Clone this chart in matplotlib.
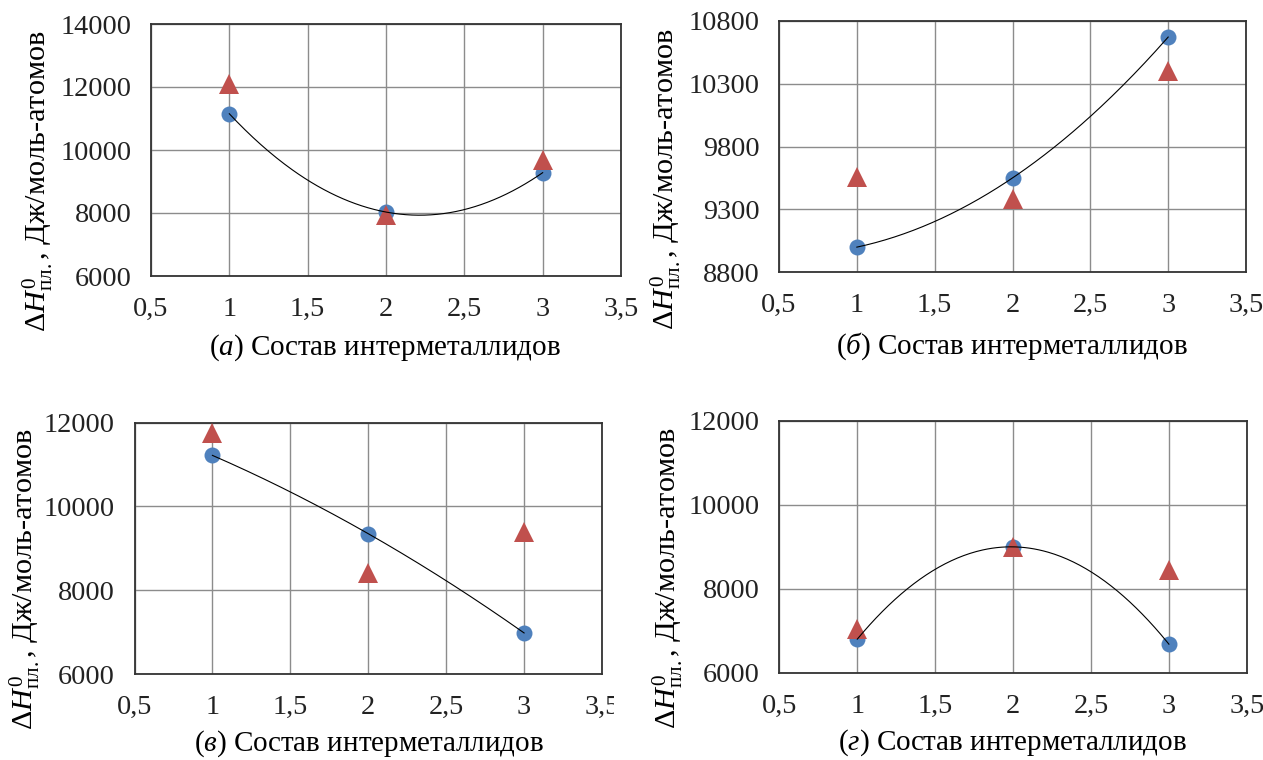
import numpy as np
import matplotlib
matplotlib.use("Agg")
import matplotlib.pyplot as plt
from matplotlib.patches import Rectangle

plt.rcParams['font.family'] = ['Liberation Serif', 'DejaVu Serif']
plt.rcParams['mathtext.fontset'] = 'custom'
plt.rcParams['mathtext.rm'] = 'Liberation Serif'
plt.rcParams['mathtext.it'] = 'Liberation Serif:italic'
plt.rcParams['mathtext.bf'] = 'Liberation Serif:bold'

# ---------------- data ----------------
x_comp = [1, 2, 3]

a_blue = [11150, 8030, 9280]
a_red = [12080, 7950, 9680]

b_blue = [9000, 9550, 10670]
b_red = [9560, 9380, 10400]

v_blue = [11220, 9350, 6980]
v_red = [11750, 8420, 9400]

g_blue = [6800, 9000, 6680]
g_red = [7050, 8990, 8450]

x_ticks = [0.5, 1, 1.5, 2, 2.5, 3, 3.5]
x_tick_labels = ['0,5', '1', '1,5', '2', '2,5', '3', '3,5']

a_yticks = [6000, 8000, 10000, 12000, 14000]
b_yticks = [8800, 9300, 9800, 10300, 10800]
v_yticks = [6000, 8000, 10000, 12000]
g_yticks = [6000, 8000, 10000, 12000]

panel_letters = ['а', 'б', 'в', 'г']
xlabel_text = 'Состав интерметаллидов'
ylabel_text = r'$\Delta H^{0}_{\mathrm{пл.}}$, Дж/моль-атомов'

# ---------------- layout ----------------
W, H = 1263, 760
fig = plt.figure(figsize=(W / 100, H / 100), dpi=100)

# axes rectangles in pixels: left, right, top, bottom
rects_px = [
    (151, 621, 24, 276),
    (779, 1246, 20.7, 272.3),
    (134.5, 602, 422.7, 674),
    (779.4, 1246.8, 421, 672.7),
]
ylabel_px = [(38, 332), (666, 330), (25, 730), (668, 729)]
xlabel_px = [(385, 348), (1012, 346), (369, 744), (1012, 743)]

blues = [a_blue, b_blue, v_blue, g_blue]
reds = [a_red, b_red, v_red, g_red]
yticks_all = [a_yticks, b_yticks, v_yticks, g_yticks]

BLUE = '#4F81BD'
RED = '#C0504D'
FS_TICK = 20.3
FS_X = 21
FS_Y = 21.8

for i in range(4):
    l, r, t, b = rects_px[i]
    ax = fig.add_axes([l / W, (H - b) / H, (r - l) / W, (b - t) / H])
    yt = yticks_all[i]
    ax.set_xlim(x_ticks[0], x_ticks[-1])
    ax.set_ylim(yt[0], yt[-1])
    ax.set_xticks(x_ticks)
    ax.set_xticklabels(x_tick_labels)
    ax.set_yticks(yt)
    ax.set_yticklabels([str(v) for v in yt])
    ax.tick_params(axis='both', length=0, labelsize=FS_TICK, colors='#222222')
    ax.tick_params(axis='x', pad=15)
    ax.tick_params(axis='y', pad=14)
    ax.grid(True, color='#8c8c8c', linewidth=1.0)
    ax.set_axisbelow(True)
    for s in ax.spines.values():
        s.set_color('#333333')
        s.set_linewidth(1.3)

    ax.plot(x_comp, blues[i], 'o', color=BLUE, markersize=11.5,
            markeredgewidth=0, zorder=3)
    ax.plot(x_comp, reds[i], '^', color=RED, markersize=14,
            markeredgewidth=0, zorder=4)
    coef = np.polyfit(x_comp, blues[i], 2)
    xf = np.linspace(x_comp[0], x_comp[-1], 200)
    ax.plot(xf, np.polyval(coef, xf), color='black', linewidth=0.8, zorder=5)

    # x label
    xl_x, xl_y = xlabel_px[i]
    ax.set_xlabel('($\\mathit{' + panel_letters[i] + '}$) ' + xlabel_text,
                  fontsize=FS_X, va='center', ha='center')
    ax.xaxis.set_label_coords((xl_x - l) / (r - l), (b - xl_y) / (b - t))

    # y label
    yl_x, yl_y = ylabel_px[i]
    ax.set_ylabel(ylabel_text, fontsize=FS_Y, ha='left', va='center')
    ax.yaxis.set_label_coords((yl_x - l) / (r - l), (b - yl_y) / (b - t))

# the bottom-left chart image is cropped through its last tick label
fig.patches.append(Rectangle((614 / W, (H - 722) / H), 34 / W, 46 / H,
                             transform=fig.transFigure, facecolor='white',
                             edgecolor='none', zorder=10))

fig.savefig('out.png', dpi=100, facecolor='white')
